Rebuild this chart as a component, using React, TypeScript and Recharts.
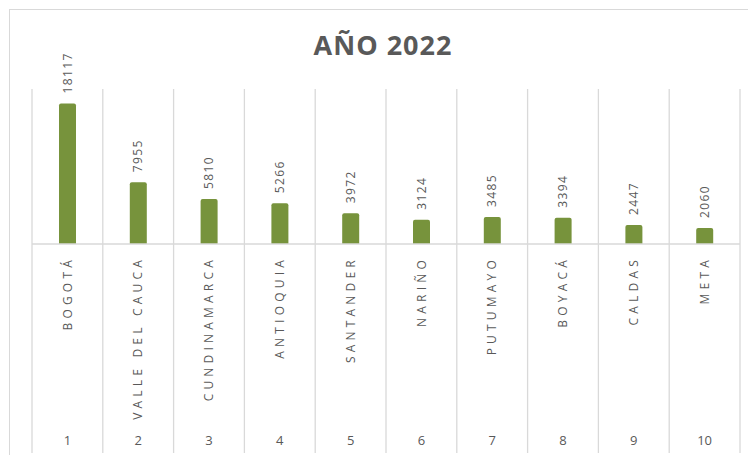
import React from 'react'
import { BarChart, Bar, XAxis, YAxis, LabelList } from 'recharts'

const departments = [
  'BOGOTÁ', 'VALLE DEL CAUCA', 'CUNDINAMARCA', 'ANTIOQUIA', 'SANTANDER',
  'NARIÑO', 'PUTUMAYO', 'BOYACÁ', 'CALDAS', 'META',
]
const ranks = ['1', '2', '3', '4', '5', '6', '7', '8', '9', '10']
const cases = [18117, 7955, 5810, 5266, 3972, 3124, 3485, 3394, 2447, 2060]

const data = departments.map((name, i) => ({ name, rank: ranks[i], value: cases[i] }))

const GRID = '#d9d9d9'
const TEXT = '#595959'
const GREEN = '#77933C'

const W = 748
const H = 455
const LEFT = 32
const RIGHT = 8
const TOP = 89
const AXIS_H = 211
const BAND = (W - LEFT - RIGHT) / departments.length

function CategoryTick(props: any) {
  const { x, payload, index } = props
  const item = data[index] || { name: payload.value, rank: '' }
  return (
    <g>
      <line x1={x - BAND / 2} x2={x - BAND / 2} y1={TOP} y2={H - 2} stroke={GRID} strokeWidth={1.3} />
      {index === data.length - 1 && (
        <line x1={x + BAND / 2} x2={x + BAND / 2} y1={TOP} y2={H - 2} stroke={GRID} strokeWidth={1.3} />
      )}
      <text
        x={x}
        y={256}
        transform={`rotate(-90, ${x}, 256)`}
        textAnchor="end"
        dy="0.35em"
        fontSize={12}
        letterSpacing={4.2}
        fill={TEXT}
        fontFamily="'Open Sans', sans-serif"
      >
        {payload.value}
      </text>
      <text x={x} y={440} textAnchor="middle" dy="0.35em" fontSize={13} fill={TEXT} fontFamily="'Open Sans', sans-serif">
        {item.rank}
      </text>
    </g>
  )
}

function ValueLabel(props: any) {
  const { x, y, width, value } = props
  const cx = x + width / 2
  const ty = y - 10
  return (
    <text
      x={cx}
      y={ty}
      transform={`rotate(-90, ${cx}, ${ty})`}
      textAnchor="start"
      dy="0.35em"
      fontSize={12}
      letterSpacing={1.4}
      fill={TEXT}
      fontFamily="'Open Sans', sans-serif"
    >
      {value}
    </text>
  )
}

export default function App() {
  return (
    <div style={{ position: 'fixed', left: 0, top: 0, width: W, height: H, background: '#fff', overflow: 'hidden' }}>
      <div
        style={{
          position: 'absolute', left: 9, top: 9, width: W, height: H,
          borderLeft: `1.5px solid ${GRID}`, borderTop: `1.5px solid ${GRID}`, boxSizing: 'border-box',
        }}
      />
      <div
        style={{
          position: 'absolute', left: 0, width: W, top: 26, textAlign: 'center', paddingLeft: 18,
          boxSizing: 'border-box', fontFamily: "'Open Sans', sans-serif", fontWeight: 700,
          fontSize: 27, letterSpacing: 1, color: TEXT,
        }}
      >
        AÑO 2022
      </div>
      <div style={{ position: 'absolute', left: 0, top: 0 }}>
        <BarChart width={W} height={H} data={data} margin={{ top: TOP, right: RIGHT, left: LEFT, bottom: 0 }}>
          <XAxis
            dataKey="name"
            height={AXIS_H}
            interval={0}
            tickLine={false}
            axisLine={{ stroke: GRID, strokeWidth: 1.5 }}
            tick={<CategoryTick />}
          />
          <YAxis hide domain={[0, 20000]} />
          <Bar dataKey="value" fill={GREEN} barSize={17} radius={[2, 2, 0, 0]} isAnimationActive={false}>
            <LabelList dataKey="value" content={<ValueLabel />} />
          </Bar>
        </BarChart>
      </div>
    </div>
  )
}
